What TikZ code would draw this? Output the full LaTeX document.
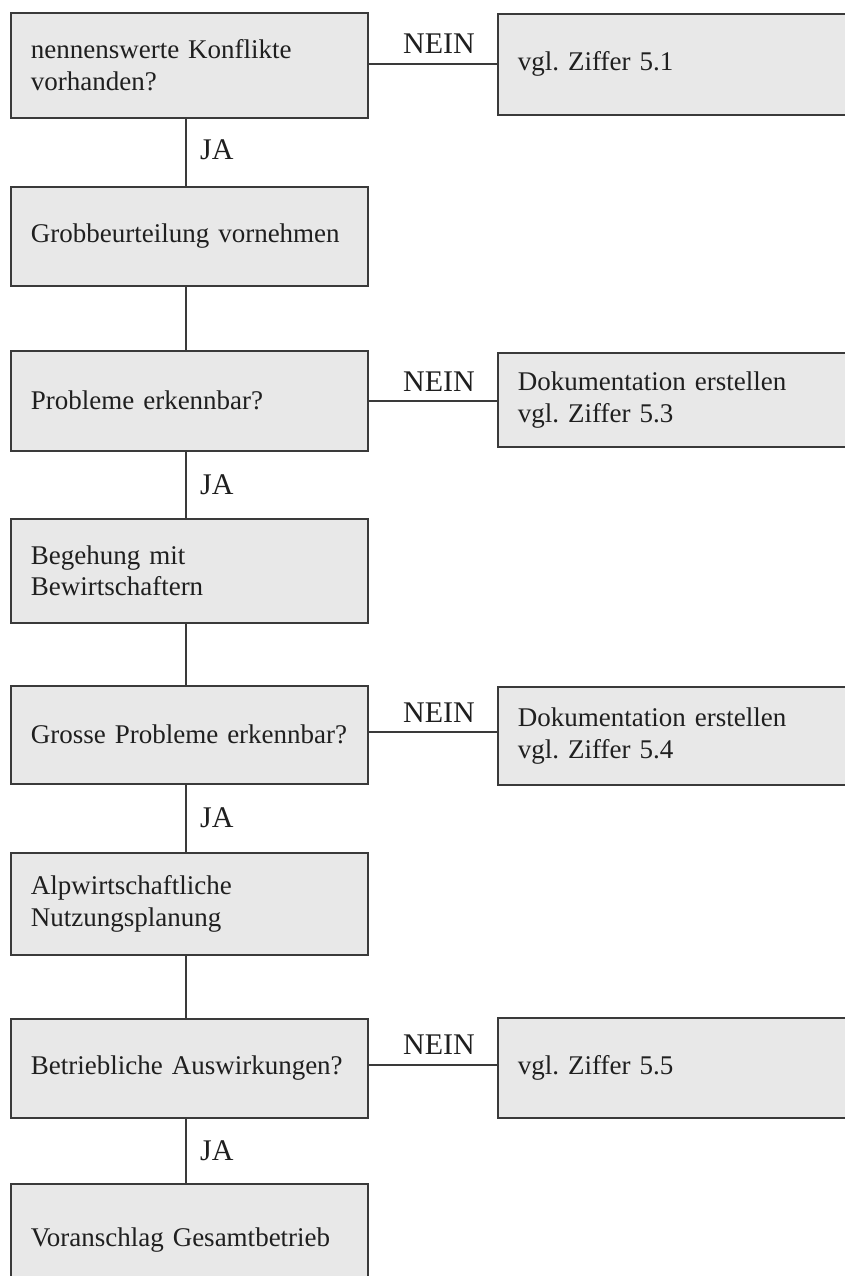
\documentclass[tikz,border=0pt]{standalone}
\usepackage{fontspec}
\setmainfont[WordSpace=0.75]{Liberation Serif}
\newfontfamily\labfont{Liberation Serif}
\frenchspacing
\definecolor{boxfill}{HTML}{E8E8E8}
\definecolor{boxline}{HTML}{3A3A3A}
\tikzset{
  lbox/.style={draw=boxline, fill=boxfill, line width=1.6pt, anchor=north west,
    minimum width=357pt, text width=317pt, inner xsep=20pt, inner ysep=0pt, align=left,
    font=\fontsize{27}{31.5}\selectfont, text=black!88},
  rbox/.style={draw=boxline, fill=boxfill, line width=1.6pt, anchor=north west,
    minimum width=360pt, text width=320pt, inner xsep=20pt, inner ysep=0pt, align=left,
    font=\fontsize{27}{31.5}\selectfont, text=black!88},
  lab/.style={anchor=base, inner sep=0pt, font=\labfont\fontsize{30}{34}\selectfont, text=black!88},
  conn/.style={draw=boxline, line width=1.6pt}
}
\begin{document}
\begin{tikzpicture}[x=1pt,y=1pt]
\useasboundingbox (0,0) rectangle (844,-1276);
\fill[white] (0,0) rectangle (844,-1276);
\coordinate (cx) at (186,0);
% left boxes
\node[lbox, minimum height=105pt] (b1) at (10,-12) {nennenswerte Konflikte\\vorhanden?};
\node[lbox, minimum height=99pt] (b2) at (10,-186) {\mbox{Grobbeurteilung vornehmen}};
\node[lbox, minimum height=100pt] (b3) at (10,-350) {Probleme erkennbar?};
\node[lbox, minimum height=104pt] (b4) at (10,-518) {Begehung mit\\Bewirtschaftern};
\node[lbox, minimum height=98pt] (b5) at (10,-685) {\mbox{Grosse Probleme erkennbar?}};
\node[lbox, minimum height=102pt] (b6) at (10,-852) {Alpwirtschaftliche\\Nutzungsplanung};
\node[lbox, minimum height=99pt] (b7) at (10,-1018) {\mbox{Betriebliche Auswirkungen?}};
\node[lbox, minimum height=112pt] (b8) at (10,-1183) {\mbox{Voranschlag Gesamtbetrieb}};
% right boxes
\node[rbox, minimum height=101pt] (r1) at (497,-13) {vgl. Ziffer 5.1};
\node[rbox, minimum height=94pt] (r3) at (497,-352) {Dokumentation erstellen\\vgl. Ziffer 5.3};
\node[rbox, minimum height=98pt] (r5) at (497,-686) {Dokumentation erstellen\\vgl. Ziffer 5.4};
\node[rbox, minimum height=100pt] (r7) at (497,-1017) {vgl. Ziffer 5.5};
% vertical connectors
\draw[conn] (b1.south -| cx) -- (b2.north -| cx);
\draw[conn] (b2.south -| cx) -- (b3.north -| cx);
\draw[conn] (b3.south -| cx) -- (b4.north -| cx);
\draw[conn] (b4.south -| cx) -- (b5.north -| cx);
\draw[conn] (b5.south -| cx) -- (b6.north -| cx);
\draw[conn] (b6.south -| cx) -- (b7.north -| cx);
\draw[conn] (b7.south -| cx) -- (b8.north -| cx);
% horizontal connectors
\draw[conn] ([yshift=1.5pt]b1.east) -- ([yshift=1.5pt]b1.east -| r1.west);
\draw[conn] (b3.east) -- (b3.east -| r3.west);
\draw[conn] ([yshift=3pt]b5.east) -- ([yshift=3pt]b5.east -| r5.west);
\draw[conn] ([yshift=3.5pt]b7.east) -- ([yshift=3.5pt]b7.east -| r7.west);
% labels
\node[lab] (n1) at (439,-54) {NEIN};
\node[lab] (n3) at (439,-391) {NEIN};
\node[lab] (n5) at (439,-722) {NEIN};
\node[lab] (n7) at (439,-1054) {NEIN};
\node[lab, anchor=base west] (j1) at (200,-160) {JA};
\node[lab, anchor=base west] (j3) at (200,-494) {JA};
\node[lab, anchor=base west] (j5) at (200,-827) {JA};
\node[lab, anchor=base west] (j7) at (200,-1160) {JA};
\end{tikzpicture}
\end{document}
